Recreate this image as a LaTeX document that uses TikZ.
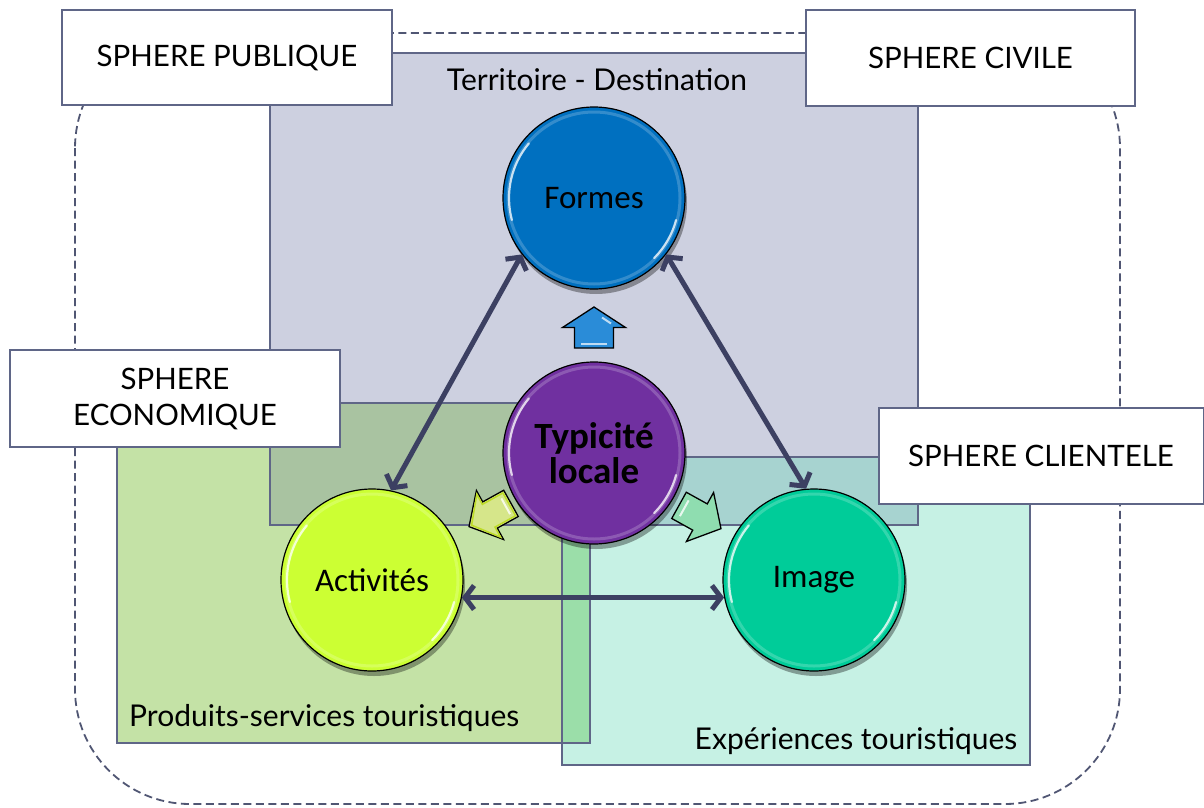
\documentclass[tikz,border=0pt]{standalone}
\usepackage{fontspec}
\setmainfont{Lato}
\newfontfamily\calfont{Carlito}
\usetikzlibrary{arrows.meta,shadows}
\definecolor{slate}{RGB}{95,102,135}
\definecolor{dashc}{RGB}{80,86,115}
\definecolor{terr}{RGB}{205,208,224}
\definecolor{prod}{RGB}{196,226,166}
\definecolor{expe}{RGB}{198,241,228}
\definecolor{tp}{RGB}{169,195,161}
\definecolor{te}{RGB}{167,211,208}
\definecolor{pe}{RGB}{155,222,169}
\definecolor{arrc}{RGB}{60,64,98}
\definecolor{cformes}{RGB}{0,112,192}
\definecolor{ctyp}{RGB}{112,48,160}
\definecolor{cact}{RGB}{204,255,51}
\definecolor{cimg}{RGB}{0,204,153}
\definecolor{bblue}{RGB}{42,140,216}
\definecolor{byel}{RGB}{214,230,138}
\definecolor{byeledge}{RGB}{190,220,40}
\definecolor{bgreen}{RGB}{143,221,176}
\tikzset{
  rectborder/.style={draw=slate, line width=1.8pt},
  sphere/.style={draw=slate, line width=2pt, fill=white, inner sep=0pt, align=center,
    font=\fontsize{29.5}{36}\selectfont},
  zonelabel/.style={inner sep=0pt, font=\fontsize{30}{36}\selectfont},
  bubble/.style={circle, minimum size=182pt, inner sep=0pt, draw=black, line width=1.2pt,
    align=center, font=\calfont\fontsize{33}{38}\selectfont,
    drop shadow={shadow xshift=2pt, shadow yshift=-5pt, opacity=0.35, fill=black}},
  ring/.style={draw=white, opacity=0.2, line width=3pt},
  hl/.style={draw=white, opacity=0.75, line width=2.2pt, line cap=round},
  link/.style={draw=arrc, line width=5pt,
    {Straight Barb[length=9pt,width=24pt]}-{Straight Barb[length=9pt,width=24pt]}},
  blockarrow/.style={draw=black, line width=1.3pt, line join=miter},
}
\begin{document}
\begin{tikzpicture}[x=1pt,y=-1pt]
\useasboundingbox (0,0) rectangle (1204,808);
% outer dashed boundary
\draw[dashc, line width=1.8pt, dash pattern=on 8pt off 4.5pt, rounded corners=115pt]
  (75,33) rectangle (1120,804);
% zones
\fill[terr] (270,53) rectangle (918,525);
\fill[prod] (117,403) rectangle (590,743);
\fill[expe] (562,457) rectangle (1030,765);
\fill[tp] (270,403) rectangle (590,525);
\fill[te] (562,457) rectangle (918,525);
\fill[pe] (562,457) rectangle (590,743);
\draw[rectborder] (270,53) rectangle (918,525);
\draw[rectborder] (117,403) rectangle (590,743);
\draw[rectborder] (562,457) rectangle (1030,765);
\node[zonelabel] (lterr) at (597,80) {Territoire - Destination};
\node[zonelabel, anchor=west] (lprod) at (129,718) {Produits-services touristiques};
\node[zonelabel] (lexp) at (856,741) {Expériences touristiques};
% sphere boxes
\node[sphere, minimum width=330pt, minimum height=95pt] (spub) at (227,57.5) {SPHERE PUBLIQUE};
\node[sphere, minimum width=329pt, minimum height=96pt] (sciv) at (970.5,58) {SPHERE CIVILE};
\node[sphere, minimum width=330pt, minimum height=97pt] (seco) at (175,398.5) {SPHERE\\ECONOMIQUE};
\node[sphere, minimum width=325pt, minimum height=96pt] (scli) at (1041,456) {SPHERE CLIENTELE};
% bubbles
\node[bubble, fill=cformes] (formes) at (594,198) {Formes};
\node[bubble, fill=ctyp, font=\calfont\bfseries\fontsize{37}{35}\selectfont] (typ) at (594,453) {Typicité\\locale};
\node[bubble, fill=cact] (act) at (372,580) {Activités};
\node[bubble, fill=cimg] (img) at (814,580) {Image};
\foreach \n in {formes,typ,act,img}{
  \draw[ring] (\n.center) circle (86);
  \draw[hl] (\n.center) ++(-140:85) arc (-140:-195:85);
  \draw[hl] (\n.center) ++(15:85) arc (15:45:85);
}
% connectors
\draw[link] (act.78) -- (formes.218);
\draw[link] (formes.-38) -- (img.95);
\draw[link] (act.-11) -- (img.191);
% block arrows
\begin{scope}[shift={(594,327.5)}]
  \coordinate (bu) at (0,0);
  \filldraw[blockarrow, fill=bblue] (0,-20.5) -- (31.5,0) -- (19.5,0) -- (19.5,20.5)
    -- (-19.5,20.5) -- (-19.5,0) -- (-31.5,0) -- cycle;
  \draw[white, opacity=0.7, line width=2pt] (-13,16) -- (13,16);
  \draw[white, opacity=0.7, line width=2pt] (8,-10) -- (17,-4);
\end{scope}
\begin{scope}[shift={(490,515)}, rotate=119]
  \coordinate (by) at (0,0);
  \filldraw[blockarrow, fill=byel, draw=black] (0,-24) -- (28,0) -- (15,0) -- (15,24)
    -- (-15,24) -- (-15,0) -- (-28,0) -- cycle;
  \draw[byeledge, line width=1.5pt] (0,-21) -- (24.5,-1.5) -- (13,-1.5) -- (13,22)
    -- (-13,22) -- (-13,-1.5) -- (-24.5,-1.5) -- cycle;
  \draw[white, opacity=0.8, line width=2pt] (-9,18) -- (9,18);
\end{scope}
\begin{scope}[shift={(700,517)}, rotate=-119]
  \coordinate (bg) at (0,0);
  \filldraw[blockarrow, fill=bgreen] (0,-24) -- (28,0) -- (15,0) -- (15,24)
    -- (-15,24) -- (-15,0) -- (-28,0) -- cycle;
  \draw[white, opacity=0.8, line width=2pt] (-9,18) -- (9,18);
\end{scope}
\end{tikzpicture}
\end{document}
